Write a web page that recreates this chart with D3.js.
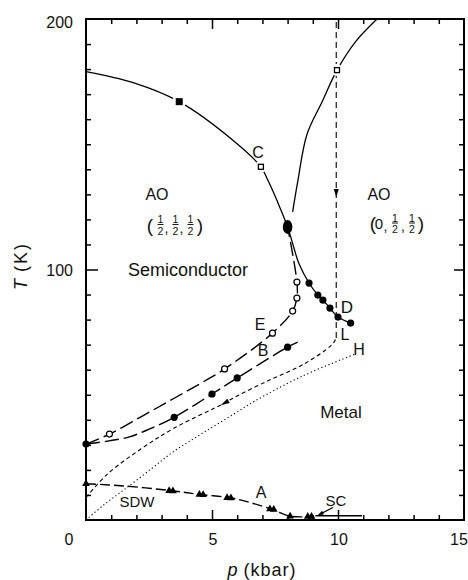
<!DOCTYPE html>
<html><head><meta charset="utf-8">
<script src="https://cdn.jsdelivr.net/npm/d3@7"></script>
<style>
body{margin:0;background:#fff}
text{font-family:"Liberation Sans",Arial,sans-serif;fill:#111}
</style>
</head><body>
<svg id="c" width="468" height="580"></svg>
<script>
// ---------- data ----------
const xTickLabels=[0,5,10,15];
const yTickLabels=[100,200];
const pMinorTicks=[1,2,3,4,6,7,8,9,11,12,13,14];
const pMajorTicks=[5,10];
const tMinorTicks=[10,20,30,40,50,60,70,80,90,110,120,130,140,150,160,170,180,190];
const tMajorTicks=[100];

// AO(1/2,1/2,1/2) boundary, continues to D
const aoBoundary=[[0,179],[1.9,174.5],[3.7,167],[5.9,151],[6.94,141],[7.2,136],[7.6,127],[8.0,117],[8.24,109],[8.44,102.6],[8.85,94.6],[9.2,89.8],[9.4,87.8],[9.68,84.6],[10.0,81],[10.5,78.6]];
const dPoints=[[8.85,94.6],[9.2,89.8],[9.4,87.8],[9.68,84.6],[10.0,81],[10.5,78.6]];
const filledSquare=[[3.7,167]];
const openSquares=[[6.94,141],[9.96,179.6]];
const blob=[[8.0,117]];
// AO(0,1/2,1/2) boundary
const aoRight=[[8.2,123],[8.4,135],[8.77,154],[9.37,167],[9.96,179.6],[10.7,191],[11.55,200]];
// E curve (open circles)
const eCurve=[[0,30.3],[0.93,34.3],[2.2,41.3],[3.5,48.6],[4.8,56],[5.5,60.3],[7.4,74.6],[8.2,83.4],[8.37,88.6],[8.37,95],[8.0,117]];
const eOpen=[[0.93,34.3],[5.5,60.3],[7.4,74.6],[8.2,83.4],[8.37,88.6],[8.37,95]];
// B curve (filled circles)
const bCurve=[[0,30.3],[1.66,33],[2.58,36.6],[3.5,41],[5.0,50.3],[6.0,56.7],[8.0,69],[8.4,71]];
const bFilled=[[0,30.3],[3.5,41],[5.0,50.3],[6.0,56.7],[8.0,69]];
// L curve (short dashed) and vertical dashed line
const lCurve=[[0,9],[0.87,18.5],[2.2,28.5],[3.5,36.7],[5.5,46.7],[5.9,49],[7.2,55.5],[8.6,62],[9.76,70],[9.93,72.7]];
const vLine=[[9.93,72.7],[9.93,200]];
// H curve (dotted)
const hCurve=[[0,0],[0.7,6],[1.5,12],[2.6,20.5],[3.5,27.5],[4.6,34.5],[5.9,42.5],[6.7,47.5],[8.6,57.5],[10.7,66.3]];
// SDW curve (A) with triangles
const sdwCurve=[[0,14.5],[1.5,13.6],[3.4,11.7],[4.6,10.1],[5.7,8.9],[6.5,7],[7.4,4.2],[8.1,1.5],[9.0,1.4]];
const sdwTriangles=[[0,14.5],[3.3,11.7],[3.45,11.6],[4.5,10.2],[4.65,10.1],[5.6,8.9],[5.75,8.8],[7.3,4.4],[7.45,4.2],[8.1,1.5],[8.8,1.4],[8.95,1.4]];
// SC line
const scLine=[[9.1,1.7],[10.95,1.7]];

// ---------- setup ----------
const svg=d3.select("#c");
const x=d3.scaleLinear().domain([0,15]).range([86,464]);
const y=d3.scaleLinear().domain([0,200]).range([520,19]);
const smooth=d3.line().x(d=>x(d[0])).y(d=>y(d[1])).curve(d3.curveCatmullRom.alpha(0.5));
const straight=d3.line().x(d=>x(d[0])).y(d=>y(d[1]));

// frame
svg.append("rect").attr("x",x(0)).attr("y",y(200)).attr("width",x(15)-x(0)).attr("height",y(0)-y(200))
  .attr("fill","none").attr("stroke","#000").attr("stroke-width",2);

function tickAxis(axis,tr){
  svg.append("g").attr("transform",tr).call(axis).call(s=>{
    s.select(".domain").remove();
    s.selectAll("line").attr("stroke","#000").attr("stroke-width",1.5);
    s.selectAll("text").remove();
  });
}
tickAxis(d3.axisBottom(x).tickValues(pMinorTicks).tickSize(-5),`translate(0,${y(0)})`);
tickAxis(d3.axisBottom(x).tickValues(pMajorTicks).tickSize(-10),`translate(0,${y(0)})`);
tickAxis(d3.axisTop(x).tickValues(pMinorTicks).tickSize(-5),`translate(0,${y(200)})`);
tickAxis(d3.axisTop(x).tickValues(pMajorTicks).tickSize(-10),`translate(0,${y(200)})`);
tickAxis(d3.axisLeft(y).tickValues(tMinorTicks).tickSize(-5),`translate(${x(0)},0)`);
tickAxis(d3.axisLeft(y).tickValues(tMajorTicks).tickSize(-12),`translate(${x(0)},0)`);
tickAxis(d3.axisRight(y).tickValues(tMinorTicks).tickSize(-5),`translate(${x(15)},0)`);
tickAxis(d3.axisRight(y).tickValues(tMajorTicks).tickSize(-10),`translate(${x(15)},0)`);

// tick labels
xTickLabels.forEach(v=>{
  const off = v===0 ? -17 : (v===15 ? -5 : 1);
  svg.append("text").attr("x",x(v)+off).attr("y",y(0)+25).attr("text-anchor","middle")
    .attr("font-size",16).text(v);
});
yTickLabels.forEach(v=>{
  svg.append("text").attr("x",x(0)-13).attr("y",y(v)+6+(v===200?3:0)).attr("text-anchor","end")
    .attr("font-size",16).text(v);
});
// axis titles
const xt=svg.append("text").attr("x",262).attr("y",576).attr("text-anchor","middle").attr("font-size",18);
xt.append("tspan").attr("font-style","italic").text("p");
xt.append("tspan").attr("letter-spacing",1).text("  (kbar)");
const yt=svg.append("text").attr("transform","translate(27,266) rotate(-90)").attr("text-anchor","middle").attr("font-size",18);
yt.append("tspan").attr("font-style","italic").text("T");
yt.append("tspan").attr("letter-spacing",2).text(" (K)");

// ---------- curves ----------
function path(data,gen,dash,w){
  svg.append("path").attr("d",gen(data)).attr("fill","none").attr("stroke","#000")
    .attr("stroke-width",w||1.3).attr("stroke-dasharray",dash||null);
}
path(hCurve,smooth,"1.2,2.6",1.1);
path(lCurve,smooth,"4,3",1.1);
path(vLine,straight,"6,4",1.1);
path(bCurve,smooth,"14,5",1.4);
path(eCurve,smooth,"14,5",1.4);
path(sdwCurve,smooth,"10,4",1.4);
path(scLine,straight,null,1.6);
path(aoBoundary,smooth,null,1.3);
path(aoRight,smooth,null,1.3);

// ---------- markers ----------
function halo(data,r){
  svg.append("g").selectAll("circle").data(data).join("circle")
    .attr("cx",d=>x(d[0])).attr("cy",d=>y(d[1])).attr("r",r).attr("fill","#fff");
}
halo(filledSquare,7);halo(openSquares,6);
svg.append("g").selectAll("rect").data(filledSquare).join("rect")
  .attr("x",d=>x(d[0])-3.5).attr("y",d=>y(d[1])-3.5).attr("width",7).attr("height",7).attr("fill","#000");
svg.append("g").selectAll("rect").data(openSquares).join("rect")
  .attr("x",d=>x(d[0])-2.5).attr("y",d=>y(d[1])-2.5).attr("width",5).attr("height",5)
  .attr("fill","#fff").attr("stroke","#000").attr("stroke-width",1.3);
svg.append("g").selectAll("ellipse").data(blob).join("ellipse")
  .attr("cx",d=>x(d[0])).attr("cy",d=>y(d[1])).attr("rx",4.8).attr("ry",7).attr("fill","#000");
svg.append("g").selectAll("circle").data(dPoints.concat(bFilled)).join("circle")
  .attr("cx",d=>x(d[0])).attr("cy",d=>y(d[1])).attr("r",3.6).attr("fill","#000");
svg.append("g").selectAll("circle").data(eOpen).join("circle")
  .attr("cx",d=>x(d[0])).attr("cy",d=>y(d[1])).attr("r",3).attr("fill","#fff").attr("stroke","#000").attr("stroke-width",1.2);
const tri=d3.symbol().type(d3.symbolTriangle).size(26);
svg.append("g").selectAll("path").data(sdwTriangles).join("path")
  .attr("transform",d=>`translate(${x(d[0])},${y(d[1])})`).attr("d",tri).attr("fill","#000");

// arrows
function arrowHead(px,py,angle,len,wid){
  const a=angle*Math.PI/180;
  const tip=[px+len/2*Math.cos(a),py+len/2*Math.sin(a)];
  const back=[px-len/2*Math.cos(a),py-len/2*Math.sin(a)];
  const n=[-Math.sin(a)*wid/2,Math.cos(a)*wid/2];
  svg.append("path").attr("d",`M${tip[0]},${tip[1]}L${back[0]+n[0]},${back[1]+n[1]}L${back[0]-n[0]},${back[1]-n[1]}Z`).attr("fill","#000");
}
arrowHead(x(9.93),y(130.5),90,8,5);
{
  const a=Math.atan2(y(45.6)-y(47.8),x(5.3)-x(5.7))*180/Math.PI;
  arrowHead(x(5.5),y(46.7),a,9,5);
}
// SC pointer
svg.append("line").attr("x1",x(9.8)).attr("y1",y(5)).attr("x2",x(9.3)).attr("y2",y(2.4)).attr("stroke","#000").attr("stroke-width",1.2);
{
  const a=Math.atan2(y(2.4)-y(5),x(9.3)-x(9.8))*180/Math.PI;
  arrowHead(x(9.3),y(2.4),a,6,4);
}

// ---------- labels ----------
function label(t,px,py,fs){
  svg.append("text").attr("x",px).attr("y",py).attr("text-anchor","middle").attr("font-size",fs||17).text(t);
}
label("AO",157,200,16);
label("AO",379,200,16);
label("Semiconductor",188,276,18);
label("C",258,158,16);
label("E",260,330,16);
label("B",263,356,16);
label("D",347,313,17);
label("L",345,340,16);
label("H",359,355,16);
label("Metal",341,418,17);
label("A",261,498,16);
label("SC",336,506,15);
label("SDW",137,507,15);

function frac(cx,barY){
  svg.append("text").attr("x",cx).attr("y",barY-1.5).attr("text-anchor","middle").attr("font-size",10.5).text("1");
  svg.append("line").attr("x1",cx-3).attr("x2",cx+3).attr("y1",barY).attr("y2",barY).attr("stroke","#000").attr("stroke-width",0.9);
  svg.append("text").attr("x",cx).attr("y",barY+10).attr("text-anchor","middle").attr("font-size",10.5).text("2");
}
// (1/2,1/2,1/2)
label("(",150,232,19);
frac(160.5,224.5);label(",",166.5,233,14);
frac(175.5,224.5);label(",",181.5,233,14);
frac(190.5,224.5);
label(")",200,232,19);
// (0,1/2,1/2)
label("(",373,230,19);
label("0",379,229,15);
label(",",385.5,231,14);
frac(395,223);label(",",403,231,14);
frac(412,223);
label(")",421,230,19);
</script>
</body></html>
